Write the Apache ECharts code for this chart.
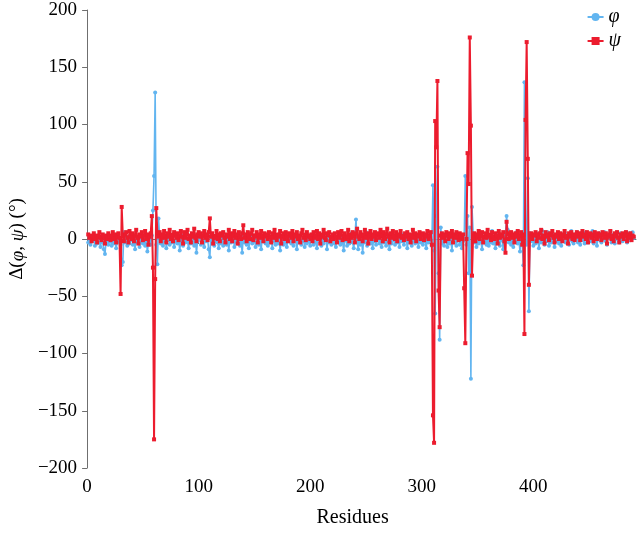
<!DOCTYPE html>
<html>
<head>
<meta charset="utf-8">
<script src="https://cdn.jsdelivr.net/npm/echarts@6/dist/echarts.min.js"></script>
<style>html,body{margin:0;padding:0;background:#fff}#c{width:640px;height:533px}</style>
</head>
<body>
<div id="c"></div>
<script>
// Residues 1..490 (index i -> residue i+1)
const phi = [
-3,2,-5,1,-2,3,-6,0,-4,2,-1,-7,1,-3,-9,-13,-2,3,-5,1,
-2,-6,2,-4,1,-8,-3,2,-1,-5,-23,-20,6,-3,1,-6,2,-4,-1,3,
-5,0,-9,2,-3,1,-7,-2,4,-4,0,-6,2,-11,-3,1,-5,3,25,55,
128,-5,-22,18,2,-4,1,-6,-2,3,-8,-1,2,-5,0,-3,4,-7,-2,1,
-4,2,-10,-1,3,-6,0,-3,5,-2,-8,1,-4,2,-1,-6,3,-12,-2,0,
2,-5,1,-3,-7,4,-2,0,-9,-16,3,-4,1,-6,-2,2,-3,-8,0,-4,
1,-6,3,-2,-5,0,-10,2,-3,-1,4,-7,-2,1,-4,3,-6,-1,-12,2,
-3,0,-5,2,-8,-1,3,-4,-2,1,-7,-3,2,-5,0,-9,1,-2,4,-4,
-1,-6,2,-3,0,-8,3,-2,-5,1,-4,2,-10,-1,0,-5,3,-3,-7,1,
-2,4,-4,0,-6,2,-1,-9,1,-3,3,-5,-2,0,-7,2,-4,1,-2,-6,
3,-1,-5,2,-3,-8,0,4,-2,-6,1,-4,-1,3,-9,0,-3,2,-5,-1,
1,-4,-7,2,-2,0,-5,3,-3,-10,1,-1,-6,2,-4,0,5,-3,-8,1,
17,-2,-9,3,-5,0,-12,2,-3,6,-6,-1,2,-4,1,-8,3,-2,-5,0,
2,-4,-1,-7,3,-3,0,-6,4,-2,-9,1,-4,2,-1,-5,3,-3,0,-7,
1,-2,4,-5,-1,2,-8,0,-3,3,-6,1,-2,-4,2,-1,-7,3,-3,0,
-5,2,-2,-8,1,-3,4,-1,-6,47,-10,-65,20,63,-30,-88,10,-4,2,-6,
3,-2,-7,1,-4,0,-10,2,-3,4,-6,-1,1,-5,3,-8,-2,0,55,-5,
20,-30,10,-122,28,5,-3,1,-7,2,-4,6,-2,-9,1,-3,3,-5,0,-6,
2,-3,7,-4,0,-8,3,-2,5,-6,1,-1,-9,2,4,20,8,-3,1,-5,
3,-7,0,-2,6,-4,1,-11,2,-3,-23,137,10,-5,53,-63,5,-2,3,-6,
1,-4,5,-1,-8,2,-3,7,0,-5,3,-2,6,-6,1,-3,4,0,-7,2,
-2,5,-4,1,-6,3,0,6,-3,-1,4,-5,2,7,-2,-4,3,0,6,-3,
1,-5,5,-1,2,-4,6,0,-3,4,-2,1,7,-4,0,3,-6,2,5,-1,
-3,4,0,6,-2,-5,3,1,7,-3,0,4,-4,2,6,-1,-3,5,1,-2,
4,0,6,-3,2,5,-1,3,6,1
];
const psi = [
4,1,3,-2,2,5,0,3,-3,2,6,1,-1,4,2,-4,3,0,5,2,
-1,3,6,0,4,-3,2,5,1,-48,28,3,-2,4,6,1,-3,7,2,0,
5,-2,3,8,1,-4,4,2,6,-1,3,7,0,4,-5,2,5,20,-25,-175,
-35,27,5,2,6,-2,4,1,7,3,-3,5,2,8,0,4,-2,6,3,1,
5,-1,3,7,2,-4,6,1,4,8,0,3,-3,5,2,9,1,-2,4,6,
2,5,-3,3,7,1,4,-1,6,18,2,5,-4,3,1,7,0,4,-2,5,
3,6,1,-3,4,2,8,0,5,-2,3,7,1,4,-4,6,2,0,5,12,
1,4,-2,6,3,0,5,8,-1,3,2,6,-3,4,1,7,3,-2,5,2,
4,0,6,2,-3,5,1,8,3,-1,4,2,7,-4,3,5,0,6,2,-2,
5,3,1,7,-2,4,2,6,0,3,-3,5,8,1,4,-1,6,2,3,0,
4,-2,6,1,3,7,0,5,-4,2,4,8,1,-1,5,3,6,-2,2,4,
0,5,2,-3,6,1,4,7,-1,3,5,0,2,8,-2,4,1,6,3,-3,
5,9,2,0,6,3,-2,4,8,1,5,-4,3,7,0,4,2,6,-1,3,
5,1,8,3,-2,6,0,4,9,2,-3,5,1,7,3,0,6,-2,4,2,
7,1,3,-1,5,2,6,0,4,-3,3,8,1,5,-2,4,2,6,0,3,
5,-1,4,2,7,0,3,6,-5,-154,-178,103,80,138,-45,-77,3,5,1,4,
-2,6,3,0,5,2,7,-3,4,1,6,2,-1,5,3,0,4,-43,-91,0,
75,48,176,99,-32,3,5,-2,4,1,7,0,3,6,-3,2,5,1,8,2,
4,-1,6,2,0,5,3,-4,7,1,4,2,6,-2,-12,15,5,0,3,6,
1,4,-3,5,2,7,0,3,6,-5,4,-83,104,172,70,-40,2,5,0,4,
3,6,-2,4,1,5,8,0,3,-4,6,2,4,-1,5,3,7,1,-3,4,
2,6,0,5,3,-2,4,7,1,3,-4,5,2,6,0,4,-1,3,6,2,
5,-1,3,7,2,4,0,6,-3,3,5,1,4,-2,6,3,0,5,2,4,
-1,6,3,1,5,-4,2,4,7,0,3,-2,5,2,6,1,-3,4,2,5,
0,3,6,-2,4,1,5,-1,3,2
];
const seriesNames = ['φ', 'ψ'];
const xTicks = [0, 100, 200, 300, 400];
const yTicks = [-200, -150, -100, -50, 0, 50, 100, 150, 200];

const FONT = '"Liberation Serif", "DejaVu Serif", serif';
const axisColor = '#6f6f6f';
const toPairs = arr => arr.map((v, i) => [i + 1, v]);

const chart = echarts.init(document.getElementById('c'), null, {renderer: 'canvas'});
chart.setOption({
  animation: false,
  backgroundColor: '#fff',
  grid: {left: 86, right: 4, top: 10, bottom: 63, containLabel: false},
  legend: {
    orient: 'vertical', right: 14, top: 2, itemGap: 4,
    itemWidth: 16, itemHeight: 10,
    data: seriesNames,
    textStyle: {fontFamily: FONT, fontStyle: 'italic', fontSize: 20, color: '#000'}
  },
  xAxis: {
    type: 'value', min: 0, max: 492, interval: 100,
    name: 'Residues', nameLocation: 'middle', nameGap: 40,
    nameTextStyle: {fontFamily: FONT, fontSize: 20, color: '#000', padding: [0, 18, 0, 0]},
    axisLine: {show: true, lineStyle: {color: axisColor, width: 1}},
    axisTick: {show: true, length: 5, lineStyle: {color: axisColor}},
    splitLine: {show: false},
    axisLabel: {
      fontFamily: FONT, fontSize: 19, color: '#000', margin: 10,
      showMaxLabel: false,
      formatter: v => xTicks.includes(v) ? String(v) : ''
    }
  },
  yAxis: {
    type: 'value', min: -200, max: 200, interval: 50,
    name: '{n|Δ(}{i|φ}{n|, }{i|ψ}{n|) (°)}',
    nameLocation: 'middle', nameRotate: 90, nameGap: 58,
    nameTextStyle: {
      rich: {
        n: {fontFamily: FONT, fontSize: 19, color: '#000'},
        i: {fontFamily: FONT, fontSize: 19, fontStyle: 'italic', color: '#000'}
      }
    },
    axisLine: {show: true, lineStyle: {color: axisColor, width: 1}},
    axisTick: {show: true, length: 5, lineStyle: {color: axisColor}},
    splitLine: {show: false},
    axisLabel: {
      fontFamily: FONT, fontSize: 19, color: '#000', margin: 10,
      formatter: v => yTicks.includes(v) ? String(v).replace('-', '−') : ''
    }
  },
  series: [
    {
      name: seriesNames[0], type: 'line', data: toPairs(phi),
      symbol: 'circle', symbolSize: 4, showSymbol: true,
      lineStyle: {color: '#62B5F0', width: 1.6},
      itemStyle: {color: '#62B5F0'},
      z: 2
    },
    {
      name: seriesNames[1], type: 'line', data: toPairs(psi),
      symbol: 'rect', symbolSize: 4, showSymbol: true,
      lineStyle: {color: '#EC1C2E', width: 2},
      itemStyle: {color: '#EC1C2E'},
      z: 3
    }
  ]
});
</script>
</body>
</html>
